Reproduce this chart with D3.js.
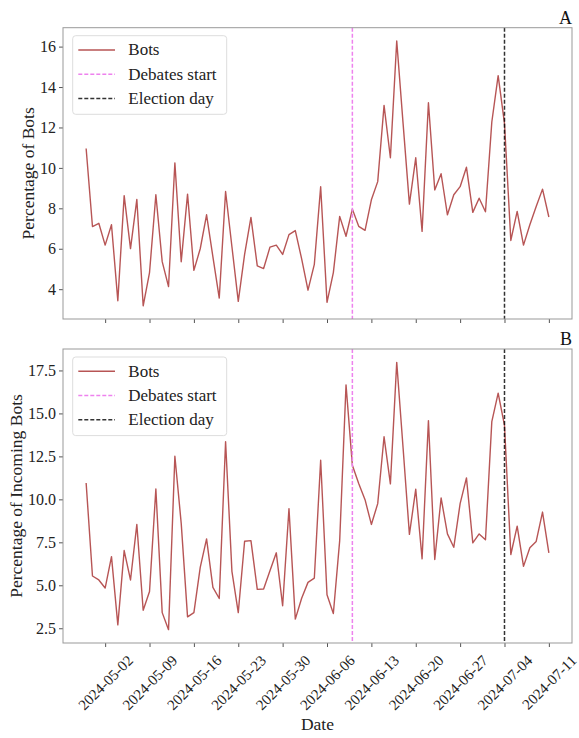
<!DOCTYPE html>
<html>
<head>
<meta charset="utf-8">
<script src="https://cdn.jsdelivr.net/npm/d3@7"></script>
<style>
  body { margin: 0; background: #fff; }
  svg text { font-family: "Liberation Serif", "Times New Roman", serif; }
</style>
</head>
<body>
<svg id="chart" width="579" height="738"></svg>
<script>
// daily dates
const dates = [
  "2024-04-29","2024-04-30","2024-05-01","2024-05-02","2024-05-03","2024-05-04","2024-05-05","2024-05-06",
  "2024-05-07","2024-05-08","2024-05-09","2024-05-10","2024-05-11","2024-05-12","2024-05-13","2024-05-14",
  "2024-05-15","2024-05-16","2024-05-17","2024-05-18","2024-05-19","2024-05-20","2024-05-21","2024-05-22",
  "2024-05-23","2024-05-24","2024-05-25","2024-05-26","2024-05-27","2024-05-28","2024-05-29","2024-05-30",
  "2024-05-31","2024-06-01","2024-06-02","2024-06-03","2024-06-04","2024-06-05","2024-06-06","2024-06-07",
  "2024-06-08","2024-06-09","2024-06-10","2024-06-11","2024-06-12","2024-06-13","2024-06-14","2024-06-15",
  "2024-06-16","2024-06-17","2024-06-18","2024-06-19","2024-06-20","2024-06-21","2024-06-22","2024-06-23",
  "2024-06-24","2024-06-25","2024-06-26","2024-06-27","2024-06-28","2024-06-29","2024-06-30","2024-07-01",
  "2024-07-02","2024-07-03","2024-07-04","2024-07-05","2024-07-06","2024-07-07","2024-07-08","2024-07-09",
  "2024-07-10","2024-07-11"
];

// panel A: percentage of bots
const botsPct = [
  10.96, 7.10, 7.26, 6.18, 7.19, 3.43, 8.63, 6.01, 8.44, 3.18,
  4.82, 8.67, 5.36, 4.13, 10.25, 5.36, 8.70, 4.93, 6.00, 7.68,
  5.60, 3.56, 8.83, 6.10, 3.40, 5.72, 7.55, 5.15, 5.02, 6.08,
  6.18, 5.72, 6.70, 6.90, 5.50, 3.95, 5.23, 9.07, 3.35, 4.82,
  7.60, 6.62, 7.96, 7.11, 6.91, 8.42, 9.32, 13.09, 10.50, 16.28,
  12.20, 8.21, 10.50, 6.86, 13.22, 8.91, 9.71, 7.68, 8.67, 9.07,
  10.03, 7.80, 8.50, 7.83, 12.27, 14.56, 12.20, 6.41, 7.85, 6.18,
  7.19, 8.09, 8.95, 7.57
];

// panel B: percentage of incoming bots
const incomingPct = [
  10.95, 5.54, 5.31, 4.84, 6.67, 2.70, 7.02, 5.31, 8.54, 3.55,
  4.64, 10.60, 3.41, 2.42, 12.51, 8.60, 3.16, 3.41, 6.04, 7.70,
  4.88, 4.23, 13.35, 5.81, 3.41, 7.56, 7.60, 4.76, 4.78, 5.85,
  6.89, 3.81, 9.46, 3.03, 4.25, 5.17, 5.42, 12.28, 4.45, 3.36,
  7.60, 16.66, 11.99, 10.92, 9.98, 8.54, 9.75, 13.64, 10.90, 17.97,
  13.00, 7.96, 10.59, 6.54, 14.58, 6.50, 10.08, 7.99, 7.21, 9.75,
  11.25, 7.47, 7.99, 7.65, 14.52, 16.18, 14.30, 6.79, 8.44, 6.10,
  7.18, 7.55, 9.26, 6.89
];

const xTickDates = ["2024-05-02","2024-05-09","2024-05-16","2024-05-23","2024-05-30","2024-06-06",
  "2024-06-13","2024-06-20","2024-06-27","2024-07-04","2024-07-11"];
const yTicksA = [4, 6, 8, 10, 12, 14, 16];
const yTicksB = [2.5, 5, 7.5, 10, 12.5, 15, 17.5];

const debatesStart = "2024-06-10";
const electionDay = "2024-07-04";
const legendLabels = ["Bots", "Debates start", "Election day"];

const parse = d3.utcParse("%Y-%m-%d");
const fmt = d3.utcFormat("%Y-%m-%d");
const svg = d3.select("#chart");

const left = 63, right = 572;
const lineColor = "#a52a2a", debColor = "#ee82ee", elecColor = "#000";
const spineColor = "#999";

const t0 = parse(dates[0]), t1 = parse(dates[dates.length - 1]);
const span = t1 - t0;
const x = d3.scaleUtc()
    .domain([new Date(+t0 - span * 0.05), new Date(+t1 + span * 0.05)])
    .range([left, right]);

const panels = [
  {name: "A", values: botsPct, ticks: yTicksA, fmt: d3.format("d"), label: "Percentage of Bots", top: 27.7, bottom: 319, showX: false},
  {name: "B", values: incomingPct, ticks: yTicksB, fmt: d3.format(".1f"), label: "Percentage of Incoming Bots", top: 349, bottom: 643, showX: true}
];

panels.forEach(p => {
  const g = svg.append("g");
  const lo = d3.min(p.values), hi = d3.max(p.values), r = hi - lo;
  const y = d3.scaleLinear().domain([lo - r * 0.05, hi + r * 0.05]).range([p.bottom, p.top]);

  // y axis
  const ya = g.append("g")
      .attr("transform", `translate(${left},0)`)
      .call(d3.axisLeft(y).tickValues(p.ticks).tickFormat(p.fmt).tickSize(4).tickPadding(3));
  ya.attr("font-family", null).attr("font-size", null);
  ya.select(".domain").remove();
  ya.selectAll("line").attr("stroke", "#555");
  ya.selectAll("text").attr("font-size", 16).attr("fill", "#222");

  const bb = ya.node().getBBox();
  g.append("text")
      .attr("transform", `translate(${left + bb.x - 12.5},${(p.top + p.bottom) / 2}) rotate(-90)`)
      .attr("text-anchor", "middle")
      .attr("dominant-baseline", "central")
      .attr("font-size", 17.5)
      .attr("fill", "#222")
      .text(p.label);

  // x axis
  const xa = g.append("g")
      .attr("transform", `translate(0,${p.bottom})`)
      .call(d3.axisBottom(x).tickValues(xTickDates.map(parse))
        .tickFormat(p.showX ? fmt : () => "").tickSize(4));
  xa.attr("font-family", null).attr("font-size", null);
  xa.select(".domain").remove();
  xa.selectAll("line").attr("stroke", "#555");
  if (p.showX) {
    xa.selectAll("text")
        .attr("font-size", 15)
        .attr("fill", "#222")
        .attr("y", null).attr("dy", null)
        .attr("text-anchor", "middle")
        .attr("dominant-baseline", "central")
        .each(function() {
          const w = this.getComputedTextLength(), h = 14;
          const cy = 10 + (w + h) / (2 * Math.SQRT2);
          d3.select(this).attr("transform", `translate(0,${cy}) rotate(-45)`);
        });
  }

  // data line
  const line = d3.line()
      .x((d, i) => x(parse(dates[i])))
      .y(d => y(d));
  g.append("path")
      .datum(p.values)
      .attr("fill", "none")
      .attr("stroke", lineColor)
      .attr("stroke-opacity", 0.8)
      .attr("stroke-width", 1.4)
      .attr("stroke-linejoin", "round")
      .attr("d", line);

  // event lines
  [[debatesStart, debColor, 1], [electionDay, elecColor, 0.8]].forEach(([d, c, o]) => {
    g.append("line")
        .attr("x1", x(parse(d))).attr("x2", x(parse(d)))
        .attr("y1", p.top).attr("y2", p.bottom)
        .attr("stroke", c).attr("stroke-opacity", o)
        .attr("stroke-width", 1.5)
        .attr("stroke-dasharray", "4,2");
  });

  // frame
  g.append("rect")
      .attr("x", left).attr("y", p.top)
      .attr("width", right - left).attr("height", p.bottom - p.top)
      .attr("fill", "none").attr("stroke", spineColor).attr("stroke-width", 1);

  // panel letter
  g.append("text")
      .attr("x", right).attr("y", p.top - 4)
      .attr("text-anchor", "end")
      .attr("font-size", 18)
      .attr("fill", "#111")
      .text(p.name);

  // legend
  const lg = g.append("g").attr("transform", `translate(72.7,${p.top + 8})`);
  lg.append("rect")
      .attr("width", 154).attr("height", 78.6).attr("rx", 3)
      .attr("fill", "#fff").attr("fill-opacity", 0.8)
      .attr("stroke", "#ddd");
  const styles = [[lineColor, 0.8, null], [debColor, 1, "4,2"], [elecColor, 0.8, "4,2"]];
  legendLabels.forEach((lab, i) => {
    const yy = 14.3 + i * 24.2;
    lg.append("line")
        .attr("x1", 5.6).attr("x2", 42.3).attr("y1", yy).attr("y2", yy)
        .attr("stroke", styles[i][0]).attr("stroke-opacity", styles[i][1])
        .attr("stroke-width", 1.5)
        .attr("stroke-dasharray", styles[i][2]);
    lg.append("text")
        .attr("x", 55.6).attr("y", yy)
        .attr("dominant-baseline", "central")
        .attr("font-size", 17)
        .attr("fill", "#222")
        .text(lab);
  });
});

svg.append("text")
    .attr("x", (left + right) / 2).attr("y", 730)
    .attr("text-anchor", "middle")
    .attr("font-size", 17.5)
    .attr("fill", "#222")
    .text("Date");
</script>
</body>
</html>
